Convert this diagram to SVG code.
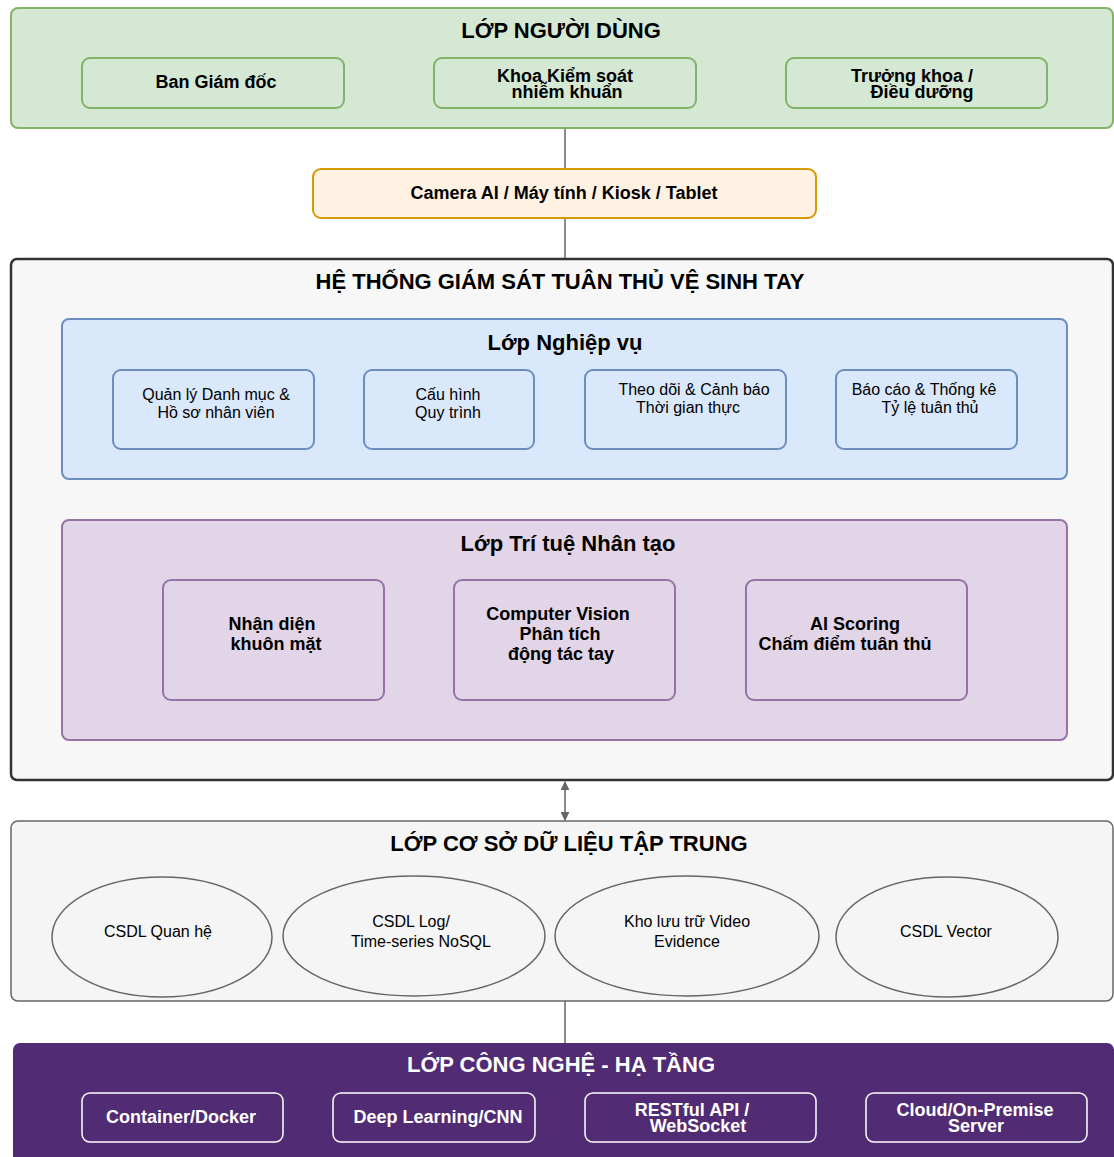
<svg xmlns="http://www.w3.org/2000/svg" width="1114" height="1157" viewBox="0 0 1114 1157">
  <defs>
    <style>
      text { font-family: "Liberation Sans", Arial, Helvetica, sans-serif; fill: #000; text-anchor: middle; }
      .title { font-size: 22px; font-weight: bold; }
      .bold { font-size: 18px; font-weight: bold; }
      .reg { font-size: 16px; }
      .white { fill: #ffffff; }
      .users { fill: #d5e8d4; stroke: #82b366; stroke-width: 2; }
      .device { fill: #fff2e3; stroke: #d79b00; stroke-width: 2; }
      .system { fill: #f7f7f7; stroke: #333333; stroke-width: 2.5; }
      .biz { fill: #dae8fc; stroke: #6c8ebf; stroke-width: 2; }
      .ai { fill: #e1d5e7; stroke: #9673a6; stroke-width: 2; }
      .db { fill: #f5f5f5; stroke: #666666; stroke-width: 1.5; }
      .tech { fill: #512c75; stroke: none; }
      .techbox { fill: none; stroke: #ffffff; stroke-width: 1.5; }
      .link { stroke: #666666; stroke-width: 1.5; fill: none; }
    </style>
    <marker id="arrow" viewBox="0 0 10 10" refX="9" refY="5" markerWidth="9" markerHeight="9" markerUnits="userSpaceOnUse" orient="auto-start-reverse">
      <path d="M0,0 L10,5 L0,10 z" fill="#666666"/>
    </marker>
  </defs>

  <!-- connectors between layers -->
  <g id="connectors">
    <line class="link" x1="565" y1="128" x2="565" y2="169"/>
    <line class="link" x1="565" y1="218" x2="565" y2="259"/>
    <line class="link" x1="565" y1="782" x2="565" y2="820" marker-start="url(#arrow)" marker-end="url(#arrow)"/>
    <line class="link" x1="565" y1="1001" x2="565" y2="1043"/>
  </g>

  <!-- user layer -->
  <g id="user-layer">
    <rect class="users" x="11" y="8" width="1102" height="120" rx="7"/>
    <text class="title" x="561" y="38">LỚP NGƯỜI DÙNG</text>
  </g>
  <g id="user-bgd">
    <rect class="users" x="82" y="58" width="262" height="50" rx="8"/>
    <text class="bold" x="216" y="88">Ban Giám đốc</text>
  </g>
  <g id="user-ksnk">
    <rect class="users" x="434" y="58" width="262" height="50" rx="8"/>
    <text class="bold" x="565" y="82">Khoa Kiểm soát</text>
    <text class="bold" x="567" y="98">nhiễm khuẩn</text>
  </g>
  <g id="user-truongkhoa">
    <rect class="users" x="786" y="58" width="261" height="50" rx="8"/>
    <text class="bold" x="912" y="82">Trưởng khoa /</text>
    <text class="bold" x="922" y="98">Điều dưỡng</text>
  </g>

  <!-- access devices -->
  <g id="devices">
    <rect class="device" x="313" y="169" width="503" height="49" rx="8"/>
    <text class="bold" x="564" y="199">Camera AI / Máy tính / Kiosk / Tablet</text>
  </g>

  <!-- monitoring system container -->
  <g id="system">
    <rect class="system" x="11" y="259" width="1102" height="521" rx="6"/>
    <text class="title" x="560" y="289">HỆ THỐNG GIÁM SÁT TUÂN THỦ VỆ SINH TAY</text>
  </g>

  <!-- business layer -->
  <g id="business-layer">
    <rect class="biz" x="62" y="319" width="1005" height="160" rx="7"/>
    <text class="title" x="565" y="350">Lớp Nghiệp vụ</text>
  </g>
  <g id="biz-danhmuc">
    <rect class="biz" x="113" y="370" width="201" height="79" rx="8"/>
    <text class="reg" x="216" y="400">Quản lý Danh mục &amp;</text>
    <text class="reg" x="216" y="418">Hồ sơ nhân viên</text>
  </g>
  <g id="biz-cauhinh">
    <rect class="biz" x="364" y="370" width="170" height="79" rx="8"/>
    <text class="reg" x="448" y="400">Cấu hình</text>
    <text class="reg" x="448" y="418">Quy trình</text>
  </g>
  <g id="biz-theodoi">
    <rect class="biz" x="585" y="370" width="201" height="79" rx="8"/>
    <text class="reg" x="694" y="395">Theo dõi &amp; Cảnh báo</text>
    <text class="reg" x="688" y="413">Thời gian thực</text>
  </g>
  <g id="biz-baocao">
    <rect class="biz" x="836" y="370" width="181" height="79" rx="8"/>
    <text class="reg" x="924" y="395">Báo cáo &amp; Thống kê</text>
    <text class="reg" x="930" y="413">Tỷ lệ tuân thủ</text>
  </g>

  <!-- AI layer -->
  <g id="ai-layer">
    <rect class="ai" x="62" y="520" width="1005" height="220" rx="7"/>
    <text class="title" x="568" y="551">Lớp Trí tuệ Nhân tạo</text>
  </g>
  <g id="ai-face">
    <rect class="ai" x="163" y="580" width="221" height="120" rx="8"/>
    <text class="bold" x="272" y="630">Nhận diện</text>
    <text class="bold" x="276" y="650">khuôn mặt</text>
  </g>
  <g id="ai-vision">
    <rect class="ai" x="454" y="580" width="221" height="120" rx="8"/>
    <text class="bold" x="558" y="620">Computer Vision</text>
    <text class="bold" x="560" y="640">Phân tích</text>
    <text class="bold" x="561" y="660">động tác tay</text>
  </g>
  <g id="ai-scoring">
    <rect class="ai" x="746" y="580" width="221" height="120" rx="8"/>
    <text class="bold" x="855" y="630">AI Scoring</text>
    <text class="bold" x="845" y="650">Chấm điểm tuân thủ</text>
  </g>

  <!-- central database layer -->
  <g id="db-layer">
    <rect class="db" x="11" y="821" width="1102" height="180" rx="7"/>
    <text class="title" x="569" y="851">LỚP CƠ SỞ DỮ LIỆU TẬP TRUNG</text>
  </g>
  <g id="db-relational">
    <ellipse class="db" cx="162" cy="937" rx="110" ry="60"/>
    <text class="reg" x="158" y="937">CSDL Quan hệ</text>
  </g>
  <g id="db-log">
    <ellipse class="db" cx="414" cy="936" rx="131" ry="60"/>
    <text class="reg" x="411" y="927">CSDL Log/</text>
    <text class="reg" x="421" y="947">Time-series NoSQL</text>
  </g>
  <g id="db-video">
    <ellipse class="db" cx="687" cy="936" rx="132" ry="60"/>
    <text class="reg" x="687" y="927">Kho lưu trữ Video</text>
    <text class="reg" x="687" y="947">Evidence</text>
  </g>
  <g id="db-vector">
    <ellipse class="db" cx="947" cy="937" rx="111" ry="60"/>
    <text class="reg" x="946" y="937">CSDL Vector</text>
  </g>

  <!-- technology / infrastructure layer -->
  <g id="tech-layer">
    <rect class="tech" x="13" y="1043" width="1101" height="130" rx="7"/>
    <text class="title white" x="561" y="1072">LỚP CÔNG NGHỆ - HẠ TẦNG</text>
  </g>
  <g id="tech-docker">
    <rect class="techbox" x="82" y="1093" width="201" height="49" rx="8"/>
    <text class="bold white" x="181" y="1123">Container/Docker</text>
  </g>
  <g id="tech-dl">
    <rect class="techbox" x="333" y="1093" width="202" height="49" rx="8"/>
    <text class="bold white" x="438" y="1123">Deep Learning/CNN</text>
  </g>
  <g id="tech-api">
    <rect class="techbox" x="585" y="1093" width="231" height="49" rx="8"/>
    <text class="bold white" x="692" y="1116">RESTful API /</text>
    <text class="bold white" x="698" y="1132">WebSocket</text>
  </g>
  <g id="tech-server">
    <rect class="techbox" x="866" y="1093" width="221" height="49" rx="8"/>
    <text class="bold white" x="975" y="1116">Cloud/On-Premise</text>
    <text class="bold white" x="976" y="1132">Server</text>
  </g>
</svg>
